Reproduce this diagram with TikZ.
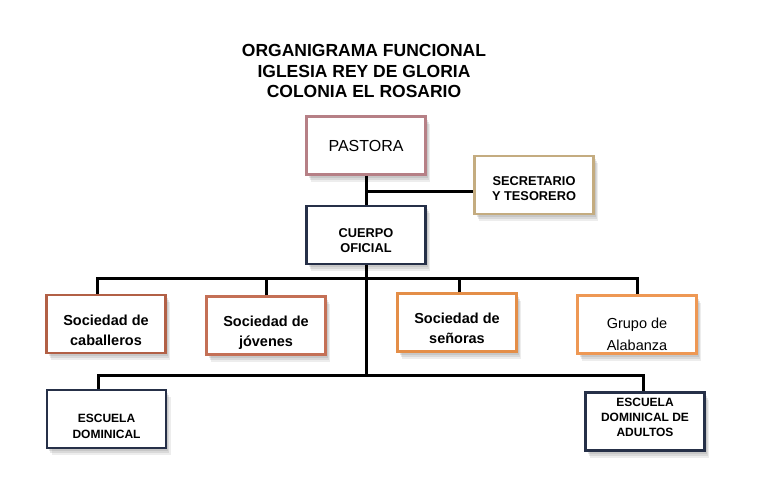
\documentclass[tikz,border=0pt]{standalone}
\usepackage{fontspec}
\setmainfont{Liberation Sans}
\usetikzlibrary{positioning,shadows}
\definecolor{rosa}{RGB}{182,128,134}
\definecolor{arena}{RGB}{196,172,128}
\definecolor{marino}{RGB}{38,48,72}
\definecolor{ladrillo}{RGB}{178,96,70}
\definecolor{teja}{RGB}{196,112,86}
\definecolor{naranja}{RGB}{228,142,72}
\definecolor{mandarina}{RGB}{238,152,84}

\begin{document}
\begin{tikzpicture}[x=1pt,y=-1pt,on grid,node distance=90pt,
  caja/.style={draw,line width=2.4pt,fill=white,minimum width=119pt,minimum height=58pt,align=center,
    drop shadow={shadow xshift=2pt,shadow yshift=-3pt,fill=black!50,opacity=.2},
    drop shadow={shadow xshift=3pt,shadow yshift=-5pt,fill=black!50,opacity=.18},
    drop shadow={shadow xshift=4.5pt,shadow yshift=-7pt,fill=black!50,opacity=.14}},
  chica/.style={font=\fontsize{12.8}{15.5}\selectfont\bfseries},
  media/.style={font=\fontsize{14.5}{20}\selectfont\bfseries,text height=42pt,text depth=0pt},
  linea/.style={line width=3pt,line join=miter}]
  \useasboundingbox (0,0) rectangle (768,503);

  \node[align=center,font=\fontsize{17.5}{20.5}\selectfont\bfseries] (titulo) at (364,71)
    {ORGANIGRAMA FUNCIONAL\\IGLESIA REY DE GLORIA\\COLONIA EL ROSARIO};

  \node[caja,draw=rosa,font=\fontsize{16}{19}\selectfont] (pastora) at (366,145.5) {PASTORA};
  \node[caja,chica,draw=arena,text height=31.5pt,text depth=0pt] (secre) at (534,185) {SECRETARIO\\Y TESORERO};
  \node[caja,chica,draw=marino,text height=35.5pt,text depth=0pt] (cuerpo) [below=89.5pt of pastora] {CUERPO\\OFICIAL};

  \node[caja,media,draw=ladrillo] (caballeros) at (106,324) {Sociedad de\\caballeros};
  \node[caja,media,draw=teja] (jovenes) [right=160pt of caballeros,yshift=-1.5pt] {Sociedad de\\jóvenes};
  \node[caja,media,draw=naranja] (senoras) at (457,322.5) {Sociedad de\\señoras};
  \node[caja,draw=mandarina,font=\fontsize{14.5}{22}\selectfont,text height=52pt,text depth=0pt,inner ysep=2pt]
    (alabanza) at (637,324.5) {Grupo de\\Alabanza};

  \node[caja,draw=marino,font=\fontsize{12}{16}\selectfont\bfseries,text height=38pt,text depth=0pt]
    (escuela) at (106.5,419) {ESCUELA\\DOMINICAL};
  \node[caja,draw=marino,font=\fontsize{12}{15}\selectfont\bfseries,text depth=8pt] (adultos) at (645,421.5)
    {ESCUELA\\DOMINICAL DE\\ADULTOS};

  \coordinate (rama) at (366,191);
  \coordinate (bus1) at (366,278);
  \coordinate (bus2) at (366,375);

  \draw[linea] (pastora) -- (cuerpo);
  \draw[linea] (rama) -- (rama -| secre.west);
  \draw[linea] (cuerpo) -- (bus2);
  \draw[linea] ([xshift=-9pt]caballeros.north) |- (bus1) -| (alabanza.north);
  \draw[linea] (jovenes.north) -- (jovenes.north |- bus1);
  \draw[linea] ([xshift=2pt]senoras.north) -- ([xshift=2pt]senoras.north |- bus1);
  \draw[linea] ([xshift=-8pt]escuela.north) |- (bus2) -| ([xshift=-2pt]adultos.north);
\end{tikzpicture}
\end{document}
